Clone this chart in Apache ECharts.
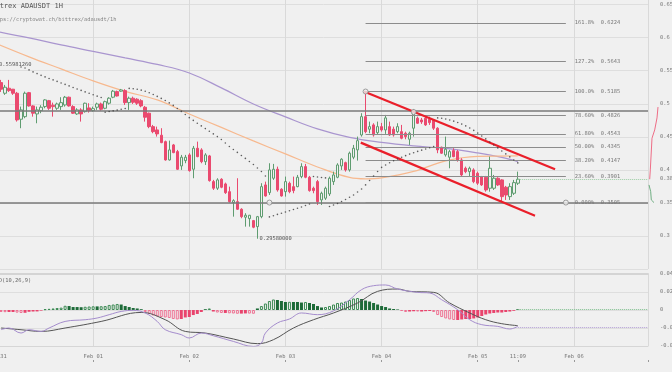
<!DOCTYPE html>
<html><head><meta charset="utf-8">
<script src="https://cdn.jsdelivr.net/npm/echarts@6/dist/echarts.min.js"></script>
<style>html,body{margin:0;padding:0;background:#f0f0f0;}#c{width:672px;height:372px;}</style>
</head><body><div id="c"></div>
<script>
// ---------- DATA ----------
const dayLabels = ['Jan 31','Feb 01','Feb 02','Feb 03','Feb 04','Feb 05','Feb 06'];
const lastTimeLabel = '11:09';
const lastHour = 130;
// candles: hour index from 0, [open, close, low, high]
const candles = [
[0.5400,0.5320,0.5280,0.5598],[0.5320,0.5220,0.5179,0.5361],[0.5159,0.5250,0.5134,0.5285],[0.5235,0.5199,0.5179,0.5361],
[0.5220,0.5159,0.5134,0.5224],[0.5159,0.4755,0.4730,0.5179],[0.4766,0.4907,0.4630,0.4957],[0.4805,0.5159,0.4781,0.5184],
[0.5168,0.4967,0.4957,0.5179],[0.4967,0.4857,0.4805,0.4978],[0.4846,0.4907,0.4705,0.4957],[0.4896,0.4947,0.4857,0.4978],
[0.4957,0.5058,0.4932,0.5069],[0.5047,0.4932,0.4907,0.5058],[0.4978,0.4957,0.4805,0.5017],[0.4932,0.4997,0.4907,0.5017],
[0.4957,0.5017,0.4907,0.5099],[0.4982,0.5099,0.4957,0.5118],[0.5099,0.4967,0.4957,0.5108],[0.4957,0.4857,0.4846,0.4978],
[0.4846,0.4907,0.4831,0.4932],[0.4907,0.4846,0.4730,0.4932],[0.4881,0.5008,0.4866,0.5017],[0.4937,0.4896,0.4866,0.5008],
[0.4896,0.4926,0.4881,0.4957],[0.4947,0.4997,0.4907,0.5017],[0.4997,0.4917,0.4896,0.5017],[0.4932,0.5032,0.4917,0.5047],
[0.5008,0.5084,0.4987,0.5099],[0.5099,0.5190,0.5084,0.5209],[0.5184,0.5118,0.5108,0.5199],[0.5190,0.5209,0.5179,0.5224],
[0.5199,0.5017,0.4982,0.5220],[0.5017,0.5084,0.4907,0.5108],[0.5084,0.5023,0.4997,0.5108],[0.5069,0.5008,0.4982,0.5084],
[0.5047,0.4967,0.4947,0.5069],[0.4947,0.4796,0.4730,0.4967],[0.4857,0.4654,0.4630,0.4866],[0.4654,0.4578,0.4554,0.4680],
[0.4604,0.4544,0.4503,0.4654],[0.4524,0.4412,0.4403,0.4630],[0.4427,0.4150,0.4140,0.4442],[0.4150,0.4302,0.4140,0.4442],
[0.4377,0.4261,0.4252,0.4392],[0.4276,0.4009,0.3999,0.4302],[0.4059,0.4191,0.3999,0.4226],[0.4140,0.4191,0.4100,0.4226],
[0.4226,0.3988,0.3973,0.4252],[0.4009,0.4327,0.3873,0.4362],[0.4327,0.4200,0.4191,0.4427],[0.4302,0.4124,0.4100,0.4327],
[0.4124,0.4226,0.4074,0.4252],[0.4211,0.3837,0.3822,0.4226],[0.3822,0.3722,0.3696,0.3848],[0.3722,0.3848,0.3696,0.3873],
[0.3858,0.3737,0.3722,0.3873],[0.3787,0.3655,0.3636,0.3807],[0.3670,0.3519,0.3504,0.3746],[0.3504,0.3534,0.3292,0.3555],
[0.3519,0.3404,0.3394,0.3873],[0.3404,0.3292,0.3268,0.3419],[0.3283,0.3313,0.3141,0.3344],[0.3262,0.3313,0.3141,0.3318],
[0.3232,0.3132,0.3117,0.3242],[0.3141,0.3292,0.2958,0.3303],[0.3292,0.3746,0.3268,0.3798],[0.3772,0.3605,0.3595,0.3822],
[0.3655,0.3999,0.3620,0.4100],[0.3873,0.4009,0.3848,0.4090],[0.4009,0.3696,0.3670,0.4049],[0.3707,0.3605,0.3595,0.3722],
[0.3670,0.3822,0.3595,0.3898],[0.3797,0.3670,0.3646,0.3822],[0.3746,0.3686,0.3646,0.3898],[0.3746,0.3888,0.3737,0.3923],
[0.3898,0.4049,0.3873,0.4100],[0.4049,0.3888,0.3873,0.4090],[0.3888,0.3686,0.3670,0.3908],[0.3722,0.3686,0.3646,0.3746],
[0.3822,0.3519,0.3469,0.3848],[0.3545,0.3646,0.3469,0.3670],[0.3571,0.3722,0.3545,0.3746],[0.3636,0.3873,0.3605,0.3898],
[0.3822,0.3923,0.3772,0.3973],[0.3888,0.4074,0.3873,0.4100],[0.4059,0.4161,0.3999,0.4176],[0.4109,0.3999,0.3973,0.4124],
[0.3999,0.4252,0.3973,0.4276],[0.4191,0.4327,0.4161,0.4377],[0.4302,0.4442,0.4140,0.4503],[0.4528,0.4805,0.4503,0.4857],
[0.4805,0.4578,0.4554,0.5185],[0.4615,0.4654,0.4554,0.4730],[0.4680,0.4528,0.4503,0.4705],[0.4563,0.4654,0.4528,0.4730],
[0.4654,0.4604,0.4578,0.4710],[0.4604,0.4786,0.4544,0.4831],[0.4654,0.4528,0.4513,0.4730],[0.4615,0.4528,0.4503,0.4654],
[0.4578,0.4654,0.4554,0.4705],[0.4578,0.4478,0.4463,0.4680],[0.4554,0.4503,0.4463,0.4578],[0.4463,0.4554,0.4377,0.4578],
[0.4630,0.4881,0.4503,0.4917],[0.4781,0.4705,0.4695,0.4805],[0.4755,0.4725,0.4695,0.4786],[0.4781,0.4680,0.4665,0.4801],
[0.4766,0.4715,0.4680,0.4805],[0.4755,0.4630,0.4604,0.4766],[0.4630,0.4302,0.4252,0.4645],[0.4342,0.4252,0.4241,0.4351],
[0.4226,0.4312,0.4200,0.4503],[0.4191,0.4276,0.4024,0.4302],[0.4291,0.4200,0.4191,0.4327],[0.4276,0.4150,0.4124,0.4302],
[0.4150,0.3923,0.3898,0.4176],[0.4024,0.3973,0.3949,0.4049],[0.3973,0.4024,0.3898,0.4049],[0.3999,0.3822,0.3798,0.4024],
[0.3949,0.3798,0.3772,0.3973],[0.3898,0.3772,0.3757,0.3908],[0.3888,0.3696,0.3670,0.3908],[0.3722,0.4024,0.3670,0.4200],
[0.3722,0.3873,0.3696,0.3923],[0.3873,0.3772,0.3757,0.3888],[0.3848,0.3595,0.3505,0.3858],[0.3737,0.3620,0.3545,0.3757],
[0.3595,0.3746,0.3545,0.3798],[0.3646,0.3807,0.3620,0.3848],[0.3798,0.3858,0.3772,0.3973]
];
const highPoint = [0, 0.5598126];
const lowPoint = [65, 0.2958];
// moving averages [hour, price]
const maSlow = [[0,0.6094],[8,0.5996],[16,0.5890],[24,0.5792],[32,0.5693],[40,0.5595],[48,0.5466],[56,0.5240],[64,0.4997],[72,0.4801],[80,0.4619],[88,0.4491],[96,0.4415],[104,0.4362],[112,0.4324],[120,0.4256],[126,0.4188],[130,0.4125]];
const maFast = [[0,0.5905],[8,0.5709],[16,0.5527],[24,0.5346],[32,0.5187],[40,0.5058],[48,0.4846],[56,0.4642],[64,0.4438],[72,0.4241],[80,0.4044],[88,0.3885],[92,0.3863],[96,0.3878],[104,0.3976],[112,0.4135],[120,0.4203],[130,0.4211]];
// parabolic SAR [hour, price]
const sar = [[6,0.5557],[7,0.5542],[8,0.5512],[9,0.5482],[10,0.5456],[11,0.5430],[12,0.5406],[13,0.5382],[14,0.5361],[15,0.5338],[16,0.5315],[17,0.5293],[18,0.5270],[19,0.5247],[20,0.5224],[21,0.5202],[22,0.5179],[23,0.5158],[24,0.5137],[25,0.5115],[26,0.5094],
[27,0.4872],[28,0.4882],[29,0.4893],[30,0.4904],[31,0.4916],[32,0.4928],
[33,0.5232],[34,0.5227],[35,0.5220],[36,0.5206],[37,0.5190],[38,0.5167],[39,0.5141],[40,0.5111],[41,0.5081],[42,0.5050],[43,0.5013],[44,0.4975],[45,0.4929],[46,0.4884],[47,0.4838],[48,0.4790],[49,0.4748],[50,0.4705],[51,0.4665],[52,0.4624],[53,0.4583],[54,0.4544],[55,0.4503],[56,0.4460],[57,0.4407],[58,0.4354],[59,0.4309],[60,0.4264],[61,0.4218],[62,0.4173],[63,0.4127],[64,0.4082],[65,0.4029],[66,0.3976],[67,0.3908],
[68,0.3288],[69,0.3306],[70,0.3326],[71,0.3344],[72,0.3363],[73,0.3381],[74,0.3401],[75,0.3419],[76,0.3439],[77,0.3461],[78,0.3484],
[79,0.3900],[80,0.3893],[81,0.3885],[82,0.3878],
[83,0.3446],[84,0.3469],[85,0.3492],[86,0.3522],[87,0.3552],[88,0.3586],[89,0.3620],[90,0.3666],[91,0.3711],[92,0.3772],[93,0.3840],[94,0.3908],[95,0.3976],[96,0.4037],[97,0.4074],[98,0.4108],[99,0.4138],[100,0.4165],[101,0.4191],[102,0.4215],[103,0.4238],[104,0.4259],[105,0.4279],[106,0.4298],[107,0.4316],[108,0.4335],[109,0.4354],
[110,0.4786],[111,0.4781],[112,0.4770],[113,0.4755],[114,0.4737],[115,0.4716],[116,0.4692],[117,0.4665],[118,0.4634],[119,0.4597],[120,0.4556],[121,0.4513],[122,0.4468],[123,0.4422],[124,0.4377],[125,0.4332],[126,0.4286],[127,0.4241],[128,0.4196],[129,0.4150],[130,0.4105]];
// fibonacci retracement
const fibPcts = ['161.8%','127.2%','100.0%','78.60%','61.80%','50.00%','38.20%','23.60%','0.000%'];
const fibPrices = [0.6224,0.5643,0.5185,0.4826,0.4543,0.4345,0.4147,0.3901,0.3505];
const fibFromHour = 92, fibToHour = 142;
const hLines = [0.4876, 0.3505];
const channelUpper = [[91.6,0.5184],[139.3,0.4010]];
const channelLower = [[90.8,0.4412],[134.3,0.3307]];
const handles = [[92,0.5185],[142,0.3505],[68,0.3505],[104,0.4876]];
const lastPrice = 0.3862;
// MACD
const histStart = 1;
const macdHist = [-0.0022,-0.0024,-0.0022,-0.0022,-0.0029,-0.0033,-0.0031,-0.0020,-0.0017,-0.0016,
-0.0007,0.0009,0.0013,0.0017,0.0022,0.0026,0.0047,0.0044,0.0033,0.0033,
0.0031,0.0036,0.0039,0.0041,0.0040,0.0042,0.0044,0.0056,0.0061,0.0067,
0.0061,0.0044,0.0033,0.0022,0.0017,0.0009,-0.0022,-0.0044,-0.0061,-0.0072,
-0.0078,-0.0083,-0.0089,-0.0100,-0.0105,-0.0100,-0.0083,-0.0078,-0.0056,-0.0044,
-0.0022,0.0009,0.0017,-0.0017,-0.0028,-0.0033,-0.0033,-0.0037,-0.0039,-0.0042,
-0.0040,-0.0038,-0.0040,-0.0042,0.0017,0.0044,0.0072,0.0100,0.0117,0.0111,
0.0100,0.0089,0.0091,0.0089,0.0089,0.0083,0.0089,0.0078,0.0067,0.0044,
0.0028,0.0033,0.0044,0.0061,0.0078,0.0083,0.0094,0.0111,0.0128,0.0133,
0.0122,0.0105,0.0094,0.0078,0.0061,0.0044,0.0033,0.0017,0.0011,0.0006,
-0.0011,-0.0022,-0.0017,-0.0014,-0.0017,-0.0017,-0.0013,-0.0011,-0.0022,-0.0056,
-0.0078,-0.0094,-0.0105,-0.0111,-0.0111,-0.0105,-0.0100,-0.0100,-0.0094,-0.0083,
-0.0067,-0.0050,-0.0039,-0.0033,-0.0028,-0.0028,-0.0022,-0.0017,-0.0009,0.0009];
const macdLine = [[1,-0.0219],[3,-0.0200],[6,-0.0256],[8,-0.0219],[11,-0.0238],[13,-0.0200],[17,-0.0127],[22,-0.0108],[25,-0.0089],[28,-0.0052],[31,-0.0016],[34,-0.0004],[37,-0.0033],[40,-0.0127],[42,-0.0219],[46,-0.0274],[48,-0.0311],[51,-0.0256],[54,-0.0286],[59,-0.0349],[64,-0.0405],[66,-0.0367],[67,-0.0256],[70,-0.0144],[73,-0.0100],[76,-0.0033],[80,-0.0052],[84,-0.0010],[88,0.0114],[91,0.0226],[94,0.0270],[97,0.0278],[100,0.0233],[105,0.0196],[108,0.0189],[111,0.0114],[115,0.0003],[118,-0.0108],[121,-0.0163],[125,-0.0182],[128,-0.0211],[130,-0.0182]];
const signalLine = [[1,-0.0200],[6,-0.0219],[11,-0.0238],[17,-0.0200],[26,-0.0127],[36,-0.0027],[42,-0.0108],[47,-0.0238],[52,-0.0256],[59,-0.0322],[65,-0.0374],[69,-0.0330],[74,-0.0200],[79,-0.0108],[84,-0.0033],[90,0.0078],[95,0.0207],[100,0.0233],[103,0.0207],[109,0.0196],[113,0.0078],[118,-0.0033],[122,-0.0108],[126,-0.0152],[130,-0.0174]];
const lastMacdSignal = -0.0195;
// order book depth (relative size, price)
const depthAsks = [[1.7,0.3858],[2.3,0.3999],[4,0.4479],[6.7,0.4604],[9,0.4786],[10,0.4950]];
const depthBids = [[1,0.3772],[2.7,0.3670],[3.3,0.3545],[4,0.3515],[6,0.3505]];

// ---------- CHART ----------
const MONO = "'DejaVu Sans Mono', monospace";
const FS = 5.4;
const BG = '#f0f0f0';
const RED = '#ea4a6f', GREEN = '#5f9c70';
const HMAX = 162.5;

const candleData = candles.map((c, i) => [i, c[0], c[1], c[2], c[3]]);
const histData = macdHist.map((v, i) => {
  const prev = i > 0 ? macdHist[i - 1] : 0;
  const grow = Math.abs(v) > Math.abs(prev);
  const col = v >= 0 ? (grow ? '#3d8b55' : '#1d6b38') : (grow ? '#ee7293' : '#e9446d');
  return { value: [histStart + i, v],
    itemStyle: grow ? { color: BG, borderColor: col, borderWidth: 1 } : { color: col, borderWidth: 0 } };
});
const lblStyle = { color: '#777', fontSize: FS, fontFamily: MONO };

const fibMarks = fibPrices.map((p, i) => [
  { coord: [fibFromHour, p], name: fibPcts[i] + '  ' + p.toFixed(4),
    lineStyle: { color: '#8c8c8c', width: 1, type: 'solid' },
    label: Object.assign({ show: true, position: 'end', formatter: '{b}', distance: 9 }, lblStyle) },
  { coord: [fibToHour, p] }
]);
const hLineMarks = hLines.map(p => ({ yAxis: p, lineStyle: { color: '#7a7a7a', width: 1.5, type: 'solid' }, label: { show: false } }));
const lastPriceMark = [
  { coord: [lastHour, lastPrice], name: lastPrice.toFixed(4),
    lineStyle: { color: '#9bcca3', width: 1, type: 'dotted' },
    label: Object.assign({ show: true, position: 'end', formatter: '{b}', distance: 12 }, lblStyle) },
  { coord: [HMAX, lastPrice] }
];

const hiddenX = (grid) => ({ type: 'value', gridIndex: grid, min: 0, max: HMAX, show: false });
const chart = echarts.init(document.getElementById('c'), null, { renderer: 'canvas' });
chart.setOption({
  animation: false,
  backgroundColor: BG,
  textStyle: { fontFamily: MONO },
  title: [
    { text: 'Bittrex ADAUSDT 1H', left: -13, top: 3, padding: 0, textStyle: { fontFamily: MONO, fontSize: 7, color: '#555', fontWeight: 'normal' } },
    { text: 'https://cryptowat.ch/bittrex/adausdt/1h', left: -10, top: 17, padding: 0, textStyle: { fontFamily: MONO, fontSize: FS, color: '#888', fontWeight: 'normal' } },
    { text: 'MACD(10,26,9)', left: -11, top: 278, padding: 0, textStyle: { fontFamily: MONO, fontSize: FS, color: '#666', fontWeight: 'normal' } }
  ],
  grid: [
    { left: -3, right: 24, top: -2, height: 271, outerBoundsMode: 'none', containLabel: false },
    { left: -3, right: 24, top: 274, height: 72, outerBoundsMode: 'none', containLabel: false },
    { left: 648, width: 12, top: -2, height: 271, outerBoundsMode: 'none', containLabel: false },
    { left: -3, right: 24, top: 269, bottom: 0, outerBoundsMode: 'none', containLabel: false }
  ],
  xAxis: [
    { type: 'value', gridIndex: 0, min: 0, max: HMAX, interval: 24, axisLabel: { show: false }, axisTick: { show: false }, axisLine: { show: false },
      splitLine: { show: true, lineStyle: { color: '#d9d9d9', width: 1 } } },
    { type: 'value', gridIndex: 1, position: 'bottom', min: 0, max: HMAX, interval: 24,
      axisLine: { show: true, onZero: false, lineStyle: { color: '#d6d6d6' } }, axisTick: { show: false },
      axisLabel: { show: true, margin: 8, color: '#777', fontSize: FS, fontFamily: MONO, showMaxLabel: false,
        formatter: v => dayLabels[v / 24] || '' },
      splitLine: { show: true, lineStyle: { color: '#d9d9d9', width: 1 } } },
    { type: 'value', gridIndex: 1, position: 'bottom', min: 0, max: HMAX, interval: lastHour,
      axisLine: { show: false, onZero: false }, axisTick: { show: false }, splitLine: { show: false },
      axisLabel: { show: true, margin: 8, color: '#777', fontSize: FS, fontFamily: MONO, formatter: v => v === lastHour ? lastTimeLabel : '' } },
    { type: 'value', gridIndex: 1, position: 'bottom', offset: 14, min: 0, max: HMAX, interval: 24,
      axisLine: { show: false, onZero: false }, axisLabel: { show: false }, splitLine: { show: false },
      axisTick: { show: true, length: 2, lineStyle: { color: '#999' } } },
    { type: 'value', gridIndex: 1, position: 'bottom', offset: 14, min: 0, max: HMAX, interval: lastHour,
      axisLine: { show: false, onZero: false }, axisLabel: { show: false }, splitLine: { show: false },
      axisTick: { show: true, length: 2, lineStyle: { color: '#999' } } },
    { type: 'value', gridIndex: 1, position: 'top', min: 0, max: HMAX,
      axisLine: { show: true, onZero: false, lineStyle: { color: '#d4d4d4', width: 2 } }, axisLabel: { show: false }, axisTick: { show: false }, splitLine: { show: false } },
    { type: 'value', gridIndex: 2, min: 0, max: 12, show: false },
    hiddenX(3)
  ],
  yAxis: [
    { type: 'value', gridIndex: 0, position: 'right', min: 0.25, max: 0.66, interval: 0.05,
      axisLine: { show: true, lineStyle: { color: '#cccccc' } },
      axisTick: { show: true, length: 3, lineStyle: { color: '#999' } },
      axisLabel: { show: true, margin: 12, color: '#777', fontSize: FS, fontFamily: MONO, showMinLabel: false, showMaxLabel: false },
      splitLine: { show: true, lineStyle: { color: '#dedede', width: 1 } } },
    { type: 'value', gridIndex: 1, position: 'right', min: -0.04, max: 0.04, interval: 0.02,
      axisLine: { show: true, lineStyle: { color: '#cccccc' } },
      axisTick: { show: true, length: 3, lineStyle: { color: '#999' } },
      axisLabel: { show: true, margin: 12, color: '#777', fontSize: FS, fontFamily: MONO },
      splitLine: { show: true, lineStyle: { color: '#dedede', width: 1 } } },
    { type: 'value', gridIndex: 2, min: 0.25, max: 0.66, show: false },
    { type: 'value', gridIndex: 3, position: 'right', axisLine: { show: true, lineStyle: { color: '#cccccc' } },
      axisTick: { show: false }, axisLabel: { show: false }, splitLine: { show: false } }
  ],
  series: [
    { type: 'line', xAxisIndex: 0, yAxisIndex: 0, data: maSlow, smooth: 0.4, symbol: 'none', z: 1,
      lineStyle: { color: '#a995cf', width: 1.2 } },
    { type: 'line', xAxisIndex: 0, yAxisIndex: 0, data: maFast, smooth: 0.4, symbol: 'none', z: 1,
      lineStyle: { color: '#f7b98f', width: 1.2 } },
    { type: 'candlestick', xAxisIndex: 0, yAxisIndex: 0, data: candleData, barWidth: 3, z: 2,
      itemStyle: { color: BG, color0: RED, borderColor: GREEN, borderColor0: RED, borderWidth: 1 },
      markLine: { silent: true, symbol: ['none', 'none'], animation: false, label: { show: false },
        data: [...hLineMarks, ...fibMarks, lastPriceMark] },
      markPoint: { silent: true, symbol: 'circle', symbolSize: 0,
        label: Object.assign({ show: true, position: 'right', distance: 2, formatter: '{b}' }, lblStyle, { color: '#555' }),
        data: [ { coord: highPoint, name: highPoint[1].toFixed(8) }, { coord: lowPoint, name: lowPoint[1].toFixed(8) } ] } },
    { type: 'line', xAxisIndex: 0, yAxisIndex: 0, data: channelUpper, symbol: 'none', z: 6,
      lineStyle: { color: '#ea1f2a', width: 2.2 } },
    { type: 'line', xAxisIndex: 0, yAxisIndex: 0, data: channelLower, symbol: 'none', z: 6,
      lineStyle: { color: '#ea1f2a', width: 2.2 } },
    { type: 'scatter', xAxisIndex: 0, yAxisIndex: 0, data: sar, symbol: 'circle', symbolSize: 1.6, z: 7,
      itemStyle: { color: '#3a3a3a' } },
    { type: 'scatter', xAxisIndex: 0, yAxisIndex: 0, data: handles, symbol: 'circle', symbolSize: 5, z: 8,
      itemStyle: { color: BG, borderColor: '#8a8a8a', borderWidth: 1 } },
    { type: 'bar', xAxisIndex: 1, yAxisIndex: 1, data: histData, barWidth: 3, z: 2,
      markLine: { silent: true, symbol: ['none', 'none'], animation: false, label: { show: false },
        data: [
          [ { coord: [lastHour, macdHist[macdHist.length - 1]], lineStyle: { color: '#7fbf8e', type: 'dotted', width: 1 } }, { coord: [HMAX, macdHist[macdHist.length - 1]] } ],
          [ { coord: [lastHour, lastMacdSignal], lineStyle: { color: '#b49fd6', type: 'dotted', width: 1 } }, { coord: [HMAX, lastMacdSignal] } ]
        ] } },
    { type: 'line', xAxisIndex: 1, yAxisIndex: 1, data: signalLine, smooth: 0.4, symbol: 'none', z: 3,
      lineStyle: { color: '#555', width: 1 } },
    { type: 'line', xAxisIndex: 1, yAxisIndex: 1, data: macdLine, smooth: 0.4, symbol: 'none', z: 4,
      lineStyle: { color: '#a48ccc', width: 1 } },
    { type: 'line', xAxisIndex: 6, yAxisIndex: 2, data: depthAsks, symbol: 'none', clip: false,
      lineStyle: { color: '#ee6d86', width: 1 } },
    { type: 'line', xAxisIndex: 6, yAxisIndex: 2, data: depthBids, symbol: 'none', clip: false,
      lineStyle: { color: '#6fae82', width: 1 } }
  ]
});
</script>
</body></html>
